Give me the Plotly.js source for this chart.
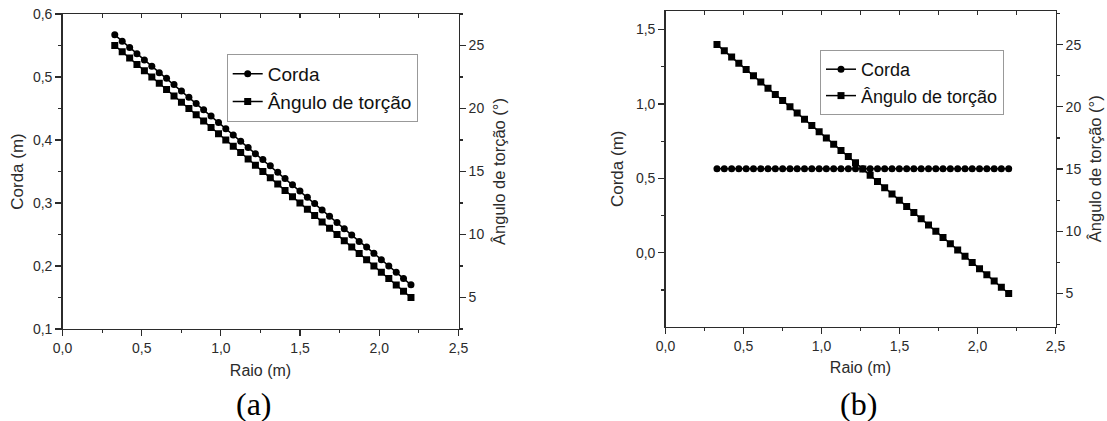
<!DOCTYPE html>
<html>
<head>
<meta charset="utf-8">
<script src="https://cdn.plot.ly/plotly-3.0.1.min.js"></script>
<style>
html,body{margin:0;padding:0;background:#fff;}
#chart{width:1107px;height:421px;}
</style>
</head>
<body>
<div id="chart"></div>
<script>
// Raio (m) — radial stations
const raio = [0.330,0.377,0.424,0.470,0.517,0.564,0.611,0.657,0.704,0.751,0.798,0.844,0.891,0.938,0.985,1.031,1.078,1.125,1.172,1.218,1.265,1.312,1.359,1.405,1.452,1.499,1.546,1.592,1.639,1.686,1.733,1.779,1.826,1.873,1.920,1.966,2.013,2.060,2.107,2.153,2.200];
// (a) Corda (m), tapered blade
const cordaA = [0.567,0.557,0.547,0.537,0.527,0.517,0.507,0.498,0.488,0.478,0.468,0.458,0.448,0.438,0.428,0.418,0.408,0.398,0.388,0.378,0.369,0.359,0.349,0.339,0.329,0.319,0.309,0.299,0.289,0.279,0.269,0.259,0.249,0.239,0.230,0.220,0.210,0.200,0.190,0.180,0.170];
// Ângulo de torção (°), same in (a) and (b)
const torcao = [25.0,24.5,24.0,23.5,23.0,22.5,22.0,21.5,21.0,20.5,20.0,19.5,19.0,18.5,18.0,17.5,17.0,16.5,16.0,15.5,15.0,14.5,14.0,13.5,13.0,12.5,12.0,11.5,11.0,10.5,10.0,9.5,9.0,8.5,8.0,7.5,7.0,6.5,6.0,5.5,5.0];
// (b) Corda (m), constant chord
const cordaB = [0.565,0.565,0.565,0.565,0.565,0.565,0.565,0.565,0.565,0.565,0.565,0.565,0.565,0.565,0.565,0.565,0.565,0.565,0.565,0.565,0.565,0.565,0.565,0.565,0.565,0.565,0.565,0.565,0.565,0.565,0.565,0.565,0.565,0.565,0.565,0.565,0.565,0.565,0.565,0.565,0.565];

const nameCorda = 'Corda';
const nameTorcao = 'Ângulo de torção';
const xTitle = 'Raio (m)';
const yTitle = 'Corda (m)';
const y2Title = 'Ângulo de torção (°)';
const captions = ['(a)', '(b)'];

const FONT = 'Liberation Sans, Arial, sans-serif';
const AX = '#2b2b2b';
const W = 1107, H = 421;

const lineStyle = {color: '#000', width: 1.5};
const circ = {symbol: 'circle', size: 7, color: '#000'};
const sq = {symbol: 'square', size: 7, color: '#000'};

const traces = [
  {x: raio, y: cordaA, name: nameCorda, mode: 'lines+markers', line: lineStyle, marker: circ, xaxis: 'x', yaxis: 'y', legend: 'legend'},
  {x: raio, y: torcao, name: nameTorcao, mode: 'lines+markers', line: lineStyle, marker: sq, xaxis: 'x', yaxis: 'y2', legend: 'legend'},
  {x: raio, y: cordaB, name: nameCorda, mode: 'lines+markers', line: lineStyle, marker: circ, xaxis: 'x2', yaxis: 'y3', legend: 'legend2'},
  {x: raio, y: torcao, name: nameTorcao, mode: 'lines+markers', line: lineStyle, marker: sq, xaxis: 'x2', yaxis: 'y4', legend: 'legend2'},
  {x: [], y: [], xaxis: 'x3', yaxis: 'y', showlegend: false, hoverinfo: 'skip'},
  {x: [], y: [], xaxis: 'x4', yaxis: 'y3', showlegend: false, hoverinfo: 'skip'}
];

function baseAxis(extra) {
  return Object.assign({
    showline: true, linecolor: AX, linewidth: 1.3,
    showgrid: false, zeroline: false,
    ticks: 'outside', ticklen: 6, tickwidth: 1.2, tickcolor: AX,
    tickfont: {family: FONT, size: 14, color: AX},
    automargin: false
  }, extra);
}

const xDomA = [62.5 / W, 458.5 / W];
const yDomA = [1 - 329 / H, 1 - 14 / H];
const xDomB = [665.5 / W, 1055.5 / W];
const yDomB = [1 - 326.5 / H, 1 - 11 / H];

const layout = {
  width: W, height: H,
  margin: {l: 0, r: 0, t: 0, b: 0},
  paper_bgcolor: '#fff', plot_bgcolor: '#fff',
  separators: ', ',
  showlegend: true,
  font: {family: FONT, color: AX},
  xaxis: baseAxis({domain: xDomA, anchor: 'y', range: [0, 2.5001], tick0: 0, dtick: 0.5, tickformat: '.1f',
    minor: {dtick: 0.25, ticklen: 3, ticks: 'outside', tickcolor: AX, tickwidth: 1.2},
    title: {text: xTitle, font: {family: FONT, size: 16, color: AX}, standoff: 9}}),
  yaxis: baseAxis({domain: yDomA, anchor: 'x', range: [0.0999, 0.6001], tick0: 0, dtick: 0.1, tickformat: '.1f',
    minor: {dtick: 0.05, ticklen: 3, ticks: 'outside', tickcolor: AX, tickwidth: 1.2},
    title: {text: yTitle, font: {family: FONT, size: 17, color: AX}, standoff: 5}}),
  yaxis2: baseAxis({overlaying: 'y', side: 'right', anchor: 'x', range: [2.5, 27.5], tick0: 0, dtick: 5, tickformat: 'd',
    minor: {dtick: 2.5, ticklen: 3, ticks: 'outside', tickcolor: AX, tickwidth: 1.2},
    title: {text: y2Title, font: {family: FONT, size: 16.5, color: AX}, standoff: 10}}),
  xaxis3: baseAxis({overlaying: 'x', side: 'top', anchor: 'y', range: [0, 2.5001], tick0: 0, dtick: 0.25,
    ticks: 'inside', ticklen: 4, showticklabels: false}),

  xaxis2: baseAxis({domain: xDomB, anchor: 'y3', range: [0, 2.5001], tick0: 0, dtick: 0.5, tickformat: '.1f',
    minor: {dtick: 0.25, ticklen: 3, ticks: 'outside', tickcolor: AX, tickwidth: 1.2},
    title: {text: xTitle, font: {family: FONT, size: 16, color: AX}, standoff: 9}}),
  yaxis3: baseAxis({domain: yDomB, anchor: 'x2', range: [-0.496, 1.625], tick0: 0, dtick: 0.5, tickformat: '.1f',
    minor: {dtick: 0.25, ticklen: 3, ticks: 'outside', tickcolor: AX, tickwidth: 1.2},
    title: {text: yTitle, font: {family: FONT, size: 17, color: AX}, standoff: 8}}),
  yaxis4: baseAxis({overlaying: 'y3', side: 'right', anchor: 'x2', range: [2.35, 27.7], tick0: 0, dtick: 5, tickformat: 'd',
    minor: {dtick: 2.5, ticklen: 3, ticks: 'outside', tickcolor: AX, tickwidth: 1.2},
    title: {text: y2Title, font: {family: FONT, size: 16.5, color: AX}, standoff: 9}}),
  xaxis4: baseAxis({overlaying: 'x2', side: 'top', anchor: 'y3', range: [0, 2.5001], tick0: 0, dtick: 0.25,
    ticks: 'inside', ticklen: 4, showticklabels: false}),

  legend: {x: 226.7 / W, y: 1 - 54 / H, xanchor: 'left', yanchor: 'top', bgcolor: '#fff',
    bordercolor: '#999', borderwidth: 1, font: {family: FONT, size: 19, color: '#111'}, tracegroupgap: 0},
  legend2: {x: 820 / W, y: 1 - 50 / H, xanchor: 'left', yanchor: 'top', bgcolor: '#fff',
    bordercolor: '#999', borderwidth: 1, font: {family: FONT, size: 18, color: '#111'}, tracegroupgap: 0},

  annotations: [
    {text: captions[0], xref: 'paper', yref: 'paper', x: 254 / W, y: 1 - 404 / H, xanchor: 'center', yanchor: 'middle',
      showarrow: false, font: {family: 'Liberation Serif, Times New Roman, serif', size: 32, color: '#000'}},
    {text: captions[1], xref: 'paper', yref: 'paper', x: 858 / W, y: 1 - 404 / H, xanchor: 'center', yanchor: 'middle',
      showarrow: false, font: {family: 'Liberation Serif, Times New Roman, serif', size: 32, color: '#000'}}
  ]
};

Plotly.newPlot('chart', traces, layout, {staticPlot: true, displayModeBar: false});
</script>
</body>
</html>
